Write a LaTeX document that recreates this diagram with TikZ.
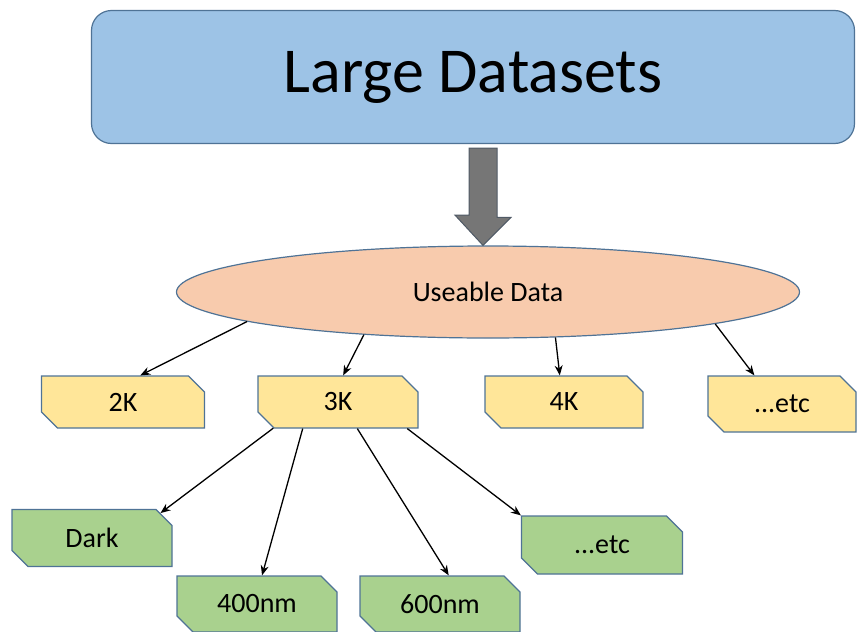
\documentclass[tikz,border=0pt]{standalone}
\usepackage{fontspec}
\setmainfont{Carlito}
\usetikzlibrary{shapes.geometric,shapes.misc,arrows.meta}

\definecolor{boxblue}{HTML}{9DC3E6}
\definecolor{edgeblue}{HTML}{4F7396}
\definecolor{peach}{HTML}{F8CBAD}
\definecolor{gold}{HTML}{FFE699}
\definecolor{leaf}{HTML}{A9D18E}
\definecolor{steel}{HTML}{767676}
\definecolor{steeledge}{HTML}{505A66}

\tikzset{
  sizebox/.style={chamfered rectangle,
    chamfered rectangle corners={north east,south west},
    chamfered rectangle xsep=8pt, chamfered rectangle ysep=8pt,
    draw=edgeblue, line width=1.2pt, fill=gold, inner sep=0pt,
    minimum width=160pt, minimum height=52pt,
    font=\fontsize{28}{32}\selectfont},
  bandbox/.style={sizebox, fill=leaf, minimum height=57pt},
  link/.style={-{Stealth[length=10pt,width=8pt]}, line width=1.3pt},
}

\begin{document}
\begin{tikzpicture}[x=1pt,y=-1pt]
        \useasboundingbox (0,0) rectangle (857,632);

        % source and filter
        \node[draw=edgeblue, line width=1.2pt, fill=boxblue, rounded corners=20pt,
              minimum width=763pt, minimum height=133pt,
              font=\fontsize{64}{70}\selectfont] (top) at (473,77) {Large Datasets};
        \node[ellipse, draw=edgeblue, line width=1.2pt, fill=peach,
              minimum width=623pt, minimum height=92pt,
              font=\fontsize{28}{32}\selectfont] (ud) at (488,292) {Useable Data};

        % big arrow between them
        \coordinate (tip) at ([xshift=-5pt]ud.north);
        \draw[fill=steel, draw=steeledge, line width=1pt]
            ([xshift=-14pt,yshift=-4pt]top.south -| tip) -- ++(0,67) -- ++(-14,0)
            -- (tip) -- ++(28,-28) -- ++(-14,0)
            -- ([xshift=14pt,yshift=-4pt]top.south -| tip) -- cycle;

        % resolutions
        \node[sizebox, minimum width=163pt] (k2) at (123,402) {2K};
        \node[sizebox] (k3) at (338,402) {3K};
        \node[sizebox, minimum width=158pt] (k4) at (564,402) {4K};
        \node[sizebox, minimum width=148pt, minimum height=56pt] (ketc) at (782,404) {...etc};

        % bands
        \node[bandbox] (dark) at (92,538) {Dark};
        \node[bandbox, minimum height=56pt] (nm4) at (257,604) {400nm};
        \node[bandbox, minimum height=56pt] (nm6) at (440,604) {600nm};
        \node[bandbox, minimum width=161pt, minimum height=58pt] (getc) at (602,545) {...etc};

        \draw[link] (ud.187) -- (k2.57);
        \draw[link] (ud.199) -- (k3.79);
        \draw[link] (ud.326) -- (k4.99);
        \draw[link] (ud.352) -- (ketc.134);

        \draw[link] (k3.202) -- (dark.20);
        \draw[link] (k3.217) -- (nm4.80);
        \draw[link] (k3.306) -- (nm6.73);
        \draw[link] (k3.339) -- (getc.north west);
    \end{tikzpicture}
\end{document}
